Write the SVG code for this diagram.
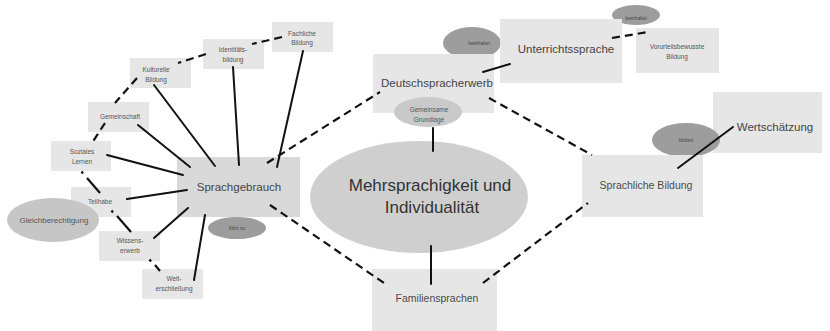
<svg xmlns="http://www.w3.org/2000/svg" width="830" height="331" viewBox="0 0 830 331">
  <style>
    text { font-family: "Liberation Sans", "Noto Sans", Arial, sans-serif; text-anchor: middle; fill: #555; }
    .box { fill: #e6e6e6; }
    .hub { fill: #d9d9d9; }
    .tag { fill: #9d9d9d; }
    .xs { font-size: 6.5px; }
    .sm { font-size: 8px; }
    .md { font-size: 10.5px; fill: #4a4a4a; }
    .lg { font-size: 11.5px; fill: #444; }
    .xl { font-size: 17px; fill: #333; }
    .tiny { font-size: 5px; fill: #444; }
    .solid { stroke: #111; stroke-width: 2; fill: none; stroke-linecap: round; }
    .dash { stroke: #111; stroke-width: 2.2; fill: none; stroke-dasharray: 8 5; }
    .seg { stroke: #111; stroke-width: 2.2; fill: none; }
  </style>

  <rect width="830" height="331" fill="#fff"/>

  <!-- left cluster -->
  <g id="fachliche-bildung">
    <rect class="box" x="272" y="22" width="61" height="30"/>
    <text class="xs" x="302" y="35.5">Fachliche</text>
    <text class="xs" x="302" y="45">Bildung</text>
  </g>
  <g id="identitaetsbildung">
    <rect class="box" x="203" y="39" width="61" height="30"/>
    <text class="xs" x="233" y="52.3">Identitäts-</text>
    <text class="xs" x="233" y="61.5">bildung</text>
  </g>
  <g id="kulturelle-bildung">
    <rect class="box" x="130" y="58" width="61" height="30"/>
    <text class="xs" x="156" y="72.3">Kulturelle</text>
    <text class="xs" x="156" y="81.5">Bildung</text>
  </g>
  <g id="gemeinschaft">
    <rect class="box" x="88" y="102" width="61" height="30"/>
    <text class="xs" x="120" y="119.3">Gemeinschaft</text>
  </g>
  <g id="soziales-lernen">
    <rect class="box" x="51" y="141" width="60" height="30"/>
    <text class="xs" x="82" y="154.3">Soziales</text>
    <text class="xs" x="82" y="163.5">Lernen</text>
  </g>
  <g id="sprachgebrauch">
    <rect class="hub" x="177" y="157" width="123" height="60"/>
    <text class="lg" x="239" y="191">Sprachgebrauch</text>
  </g>
  <g id="teilhabe">
    <rect class="box" x="71" y="187" width="60" height="30"/>
    <text class="xs" x="100" y="204.3">Teilhabe</text>
  </g>
  <g id="gleichberechtigung">
    <ellipse cx="53" cy="220" rx="46" ry="22" fill="#c6c6c6"/>
    <text class="sm" x="54" y="222.8">Gleichberechtigung</text>
  </g>
  <g id="wissenserwerb">
    <rect class="box" x="99" y="231" width="61" height="30"/>
    <text class="xs" x="130" y="243.3">Wissens-</text>
    <text class="xs" x="130" y="253.3">erwerb</text>
  </g>
  <g id="welterschliessung">
    <rect class="box" x="142" y="269" width="61" height="30"/>
    <text class="xs" x="174" y="281.3">Welt-</text>
    <text class="xs" x="174" y="291.3">erschließung</text>
  </g>
  <g id="fuehrt-zu">
    <ellipse class="tag" cx="237" cy="228" rx="29" ry="11"/>
    <text class="tiny" x="237" y="229.8">führt zu</text>
  </g>

  <!-- centre -->
  <g id="mehrsprachigkeit">
    <ellipse cx="419" cy="197" rx="109" ry="56" fill="#cfcfcf"/>
    <text class="xl" x="430" y="191">Mehrsprachigkeit und</text>
    <text class="xl" x="432" y="213">Individualität</text>
  </g>
  <g id="beinhaltet-1">
    <ellipse class="tag" cx="472" cy="43" rx="29" ry="16"/>
    <text class="tiny" x="479" y="44.8">beinhaltet</text>
  </g>
  <g id="deutschspracherwerb">
    <rect class="box" x="373" y="54" width="121" height="59"/>
    <text class="lg" x="437" y="87">Deutschspracherwerb</text>
  </g>
  <g id="gemeinsame-grundlage">
    <ellipse cx="428" cy="112" rx="34" ry="15" fill="#c9c9c9"/>
    <text class="xs" x="429" y="112">Gemeinsame</text>
    <text class="xs" x="429" y="121.5">Grundlage</text>
  </g>
  <g id="familiensprachen">
    <rect class="box" x="372" y="269" width="125" height="62"/>
    <text class="md" x="437" y="301.5">Familiensprachen</text>
  </g>

  <!-- right cluster -->
  <g id="beinhaltet-2">
    <ellipse class="tag" cx="636" cy="15" rx="24" ry="10"/>
    <text class="tiny" x="636" y="20">beinhaltet</text>
  </g>
  <g id="unterrichtssprache">
    <rect class="box" x="500" y="19" width="122" height="64"/>
    <text class="lg" x="566" y="53">Unterrichtssprache</text>
  </g>
  <g id="vorurteilsbewusste-bildung">
    <rect class="box" x="636" y="28" width="83" height="45"/>
    <text class="xs" x="677" y="49.3">Vorurteilsbewusste</text>
    <text class="xs" x="677" y="58.5">Bildung</text>
  </g>
  <g id="wertschaetzung">
    <rect class="box" x="713" y="92" width="109" height="61"/>
    <text class="lg" x="775" y="131">Wertschätzung</text>
  </g>
  <g id="foerdert">
    <ellipse class="tag" cx="686" cy="140" rx="34" ry="17"/>
    <text class="tiny" x="686" y="141.5">fördert</text>
  </g>
  <g id="sprachliche-bildung">
    <rect class="box" x="582" y="155" width="121" height="62"/>
    <text class="md" x="646" y="188.5">Sprachliche Bildung</text>
  </g>

  <g id="connectors">
    <!-- dashed links between the main areas -->
    <line class="dash" x1="267" y1="163" x2="380" y2="92"/>
    <line class="dash" x1="270" y1="205" x2="387" y2="285"/>
    <line class="dash" x1="489" y1="98" x2="592" y2="155"/>
    <line class="dash" x1="483" y1="283" x2="588" y2="203"/>
    <line class="dash" x1="612" y1="38" x2="648" y2="32"/>
    <!-- dashed chain around Sprachgebrauch -->
    <line class="dash" x1="282" y1="37" x2="252" y2="44"/>
    <line class="dash" x1="206" y1="54" x2="178" y2="63"/>
    <line class="dash" x1="137" y1="78" x2="115" y2="103"/>
    <line class="dash" x1="105" y1="123" x2="92" y2="143"/>
    <!-- lower chain, broken where it passes behind the labels -->
    <line class="seg" x1="81.5" y1="171.5" x2="83" y2="173.5"/>
    <line class="seg" x1="87" y1="178" x2="100" y2="193"/>
    <line class="seg" x1="111.5" y1="210.5" x2="113" y2="212.5"/>
    <line class="seg" x1="117" y1="216" x2="131" y2="232"/>
    <line class="seg" x1="149.5" y1="259.5" x2="151" y2="261.5"/>
    <line class="seg" x1="155" y1="265" x2="160" y2="271"/>
    <!-- solid spokes into Sprachgebrauch -->
    <line class="solid" x1="303" y1="51" x2="277" y2="167"/>
    <line class="solid" x1="233" y1="67" x2="239" y2="165"/>
    <line class="solid" x1="154" y1="85" x2="215" y2="166"/>
    <line class="solid" x1="138" y1="125" x2="190" y2="167"/>
    <line class="solid" x1="107" y1="155" x2="183" y2="175"/>
    <line class="solid" x1="127" y1="199" x2="187" y2="190"/>
    <line class="solid" x1="154" y1="238" x2="188" y2="208"/>
    <line class="solid" x1="194" y1="280" x2="205" y2="215"/>
    <!-- other solid links -->
    <line class="solid" x1="483" y1="72" x2="510" y2="64"/>
    <line class="solid" x1="678" y1="168" x2="733" y2="127"/>
    <line class="solid" x1="433" y1="128" x2="433" y2="151"/>
    <line class="solid" x1="431" y1="246" x2="431" y2="284"/>
  </g>
</svg>
